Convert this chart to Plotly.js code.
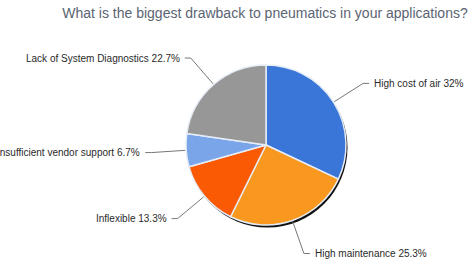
<!DOCTYPE html>
<html><head><meta charset="utf-8">
<script src="https://cdn.plot.ly/plotly-3.0.1.min.js"></script>
<style>html,body{margin:0;padding:0;background:#fff}#chart{width:474px;height:263px}</style>
</head><body><div id="chart"></div>
<script>
const categories = ["High cost of air", "High maintenance", "Inflexible", "Insufficient vendor support", "Lack of System Diagnostics"];
const shares = [32, 25.3, 13.3, 6.7, 22.7];
const sliceColors = ["#3a76d8", "#f8981f", "#fb5a05", "#7aa5e9", "#979797"];
const titleText = "What is the biggest drawback to pneumatics in your applications?";

const W = 474, H = 263, cx = 266, cy = 145, R = 80;
const px = x => x / W, py = y => 1 - y / H;
const total = shares.reduce((a, b) => a + b, 0);
let cum = 0;
const shapes = [{
  type: 'circle', xref: 'paper', yref: 'paper', layer: 'below',
  x0: px(cx - R + 1.5), x1: px(cx + R + 1.5), y0: py(cy + R + 2.5), y1: py(cy - R + 2.5),
  fillcolor: '#111', line: {width: 0}
}];
const annotations = [];
shares.forEach((v, i) => {
  const mid = (cum + v / 2) / total * 2 * Math.PI; cum += v;
  const s = Math.sin(mid), c = Math.cos(mid);
  const x1 = cx + (R + 1) * s, y1 = cy - (R + 1) * c;
  const x2 = cx + 115 * s, y2 = cy - 115 * c;
  const dir = s >= 0 ? 1 : -1;
  const x3 = x2 + 6 * dir;
  shapes.push({type: 'path', xref: 'paper', yref: 'paper',
    path: `M${px(x1)},${py(y1)}L${px(x2)},${py(y2)}L${px(x3)},${py(y2)}`,
    line: {color: '#777', width: 1}});
  annotations.push({xref: 'paper', yref: 'paper', x: px(x3 + 3 * dir), y: py(y2),
    xanchor: dir > 0 ? 'left' : 'right', yanchor: 'middle', showarrow: false,
    text: categories[i] + ' ' + v + '%',
    font: {family: 'Liberation Sans, Arial, sans-serif', size: 10, color: '#2a2a2a'}});
});

const data = [{
  type: 'pie', labels: categories, values: shares, sort: false, direction: 'clockwise', rotation: 0,
  marker: {colors: sliceColors, line: {color: '#e6edf7', width: 1.5}},
  textinfo: 'none', hoverinfo: 'label+percent', showlegend: false,
  domain: {x: [px(cx - R), px(cx + R)], y: [py(cy + R), py(cy - R)]}
}];
const layout = {
  width: W, height: H, margin: {l: 0, r: 0, t: 0, b: 0},
  paper_bgcolor: '#fff', showlegend: false,
  title: {text: titleText, x: 265 / W, xanchor: 'center', y: py(13), yanchor: 'middle',
    font: {family: 'Liberation Sans, Arial, sans-serif', size: 14, color: '#5a6472'}},
  shapes: shapes, annotations: annotations
};
Plotly.newPlot('chart', data, layout, {displayModeBar: false, staticPlot: true});
</script></body></html>
